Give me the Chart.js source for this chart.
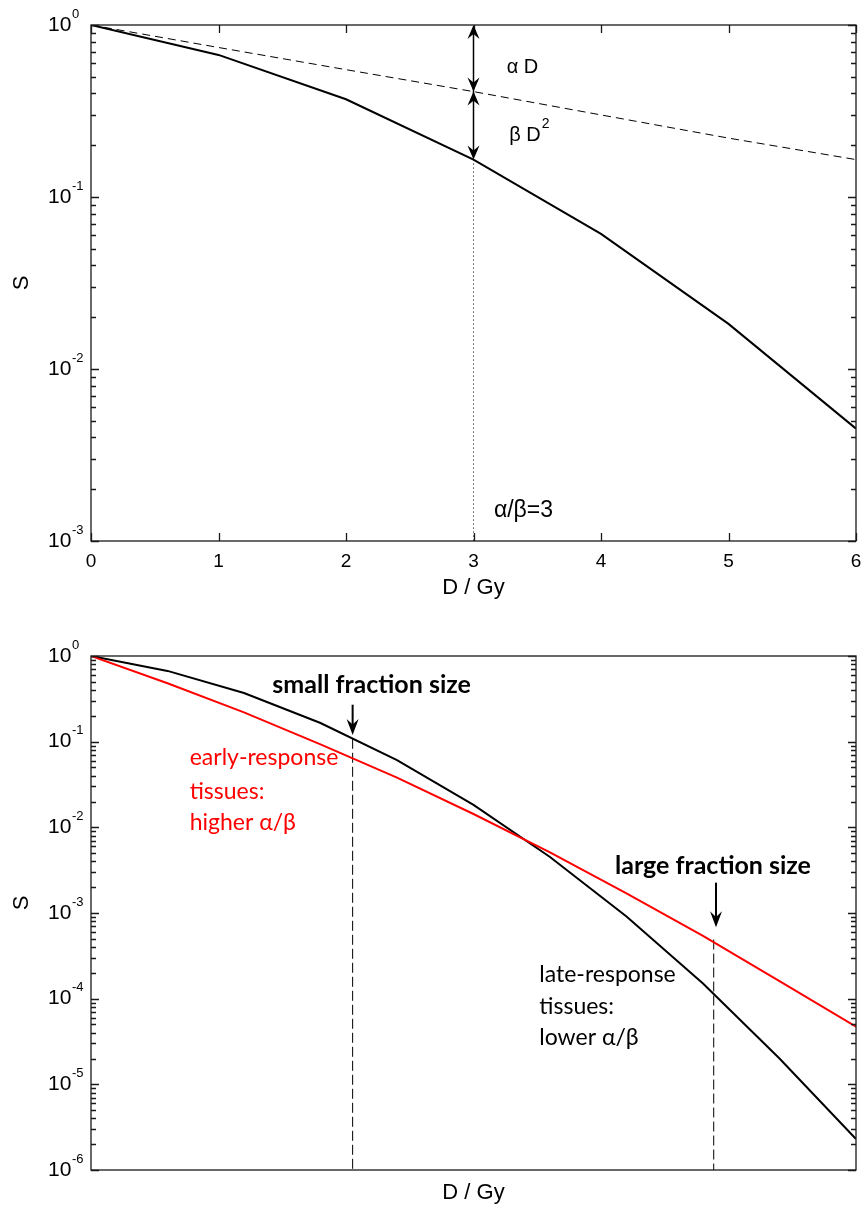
<!DOCTYPE html>
<html>
<head>
<meta charset="utf-8">
<script src="https://cdn.jsdelivr.net/npm/chart.js@4.4.0/dist/chart.umd.min.js"></script>
<style>
  html, body { margin: 0; padding: 0; background: #fff; }
  #wrap { position: relative; width: 866px; height: 1209px; }
  canvas { position: absolute; left: 0; }
</style>
</head>
<body>
<div id="wrap">
  <canvas id="topChart" width="866" height="610" style="top:0"></canvas>
  <canvas id="bottomChart" width="866" height="599" style="top:610px"></canvas>
</div>
<script>
// --- top panel: one tissue, alpha/beta = 3
const topDose = [0, 1, 2, 3, 4, 5, 6]
const topSurvival = [1, 0.67, 0.37, 0.165, 0.061, 0.0183, 0.0045]
const topAlphaOnly = [1, 0.74, 0.55, 0.41, 0.30, 0.22, 0.165]
const topXTicks = [0, 1, 2, 3, 4, 5, 6]
const topXTickLabels = ['0', '1', '2', '3', '4', '5', '6']
const topYExponents = ['0', '-1', '-2', '-3']

// --- bottom panel: late vs early responding tissues
const bottomDose = [0, 1, 2, 3, 4, 5, 6, 7, 8, 9, 10]
const lateSurvival = [1, 0.67, 0.37, 0.165, 0.061, 0.0183, 0.0045, 9.1e-4, 1.5e-4, 2.0e-5, 2.3e-6]
const earlySurvival = [1, 0.48, 0.22, 0.093, 0.038, 0.0143, 0.0051, 0.0017, 5.4e-4, 1.6e-4, 4.7e-5]
const bottomYExponents = ['0', '-1', '-2', '-3', '-4', '-5', '-6']

// annotation anchors (data units)
const markDose = 3
const markLevels = [1, 0.41, 0.165]
const smallDose = 3.42
const smallCurveS = 0.108
const largeDose = 8.14
const largeCurveS = 4.9e-4

const AXIS_FONT = '"Liberation Sans", Arial, sans-serif'
const NOTE_FONT = 'Lato, "Open Sans", sans-serif'

function pts(xs, ys) {
  return xs.map((d, i) => ({ x: d, y: ys[i] }))
}

function line(ctx, x1, y1, x2, y2) {
  ctx.moveTo(x1, y1)
  ctx.lineTo(x2, y2)
}

// matlab style arrow head, dir = 1 points down, -1 points up
function head(ctx, x, y, dir, w, l) {
  ctx.beginPath()
  ctx.moveTo(x, y)
  ctx.lineTo(x - w, y - dir * l)
  ctx.lineTo(x, y - dir * l * 0.65)
  ctx.lineTo(x + w, y - dir * l)
  ctx.closePath()
  ctx.fill()
}

function framePlugin(opts) {
  return {
    id: 'frame',
    afterDraw(chart) {
      const { ctx, chartArea: a, scales: { x, y } } = chart
      ctx.save()
      ctx.strokeStyle = '#1a1a1a'
      ctx.lineWidth = 1.3
      ctx.beginPath()
      opts.xTicks.forEach(v => {
        const px = Math.round(x.getPixelForValue(v)) + 0.5
        line(ctx, px, a.bottom, px, a.bottom - 8)
        line(ctx, px, a.top, px, a.top + 8)
      })
      const n = opts.yExponents.length
      for (let i = 0; i < n; i++) {
        const e = -i
        const py = Math.round(y.getPixelForValue(Math.pow(10, e))) + 0.5
        line(ctx, a.left, py, a.left + 8, py)
        line(ctx, a.right, py, a.right - 8, py)
        if (i < n - 1) {
          for (let k = 2; k <= 9; k++) {
            const my = Math.round(y.getPixelForValue(k * Math.pow(10, e - 1))) + 0.5
            line(ctx, a.left, my, a.left + 5, my)
            line(ctx, a.right, my, a.right - 5, my)
          }
        }
      }
      ctx.stroke()
      ctx.strokeRect(a.left, a.top, a.right - a.left, a.bottom - a.top)

      ctx.fillStyle = '#000'
      // x tick labels
      ctx.font = '19px ' + AXIS_FONT
      ctx.textAlign = 'center'
      ctx.textBaseline = 'top'
      opts.xLabels.forEach((t, i) => {
        ctx.fillText(t, x.getPixelForValue(opts.xTicks[i]), a.bottom + 11)
      })
      // y tick labels 10^e
      ctx.textAlign = 'left'
      ctx.textBaseline = 'middle'
      opts.yExponents.forEach((t, i) => {
        const py = y.getPixelForValue(Math.pow(10, -i))
        ctx.font = '21px ' + AXIS_FONT
        ctx.fillText('10', 48, py)
        ctx.font = '13px ' + AXIS_FONT
        ctx.fillText(t, 72, py - 11)
      })
      // axis titles
      ctx.font = '22px ' + AXIS_FONT
      ctx.textAlign = 'center'
      ctx.fillText('D / Gy', (a.left + a.right) / 2, a.bottom + opts.xTitleGap)
      ctx.save()
      ctx.translate(22, opts.sY)
      ctx.rotate(-Math.PI / 2)
      ctx.font = '22px ' + AXIS_FONT
      ctx.fillText('S', 0, 0)
      ctx.restore()
      ctx.restore()
    }
  }
}

const topNotes = {
  id: 'topNotes',
  afterDraw(chart) {
    const { ctx, scales: { x, y } } = chart
    const px = x.getPixelForValue(markDose)
    const ys = markLevels.map(v => y.getPixelForValue(v))
    ctx.save()
    ctx.strokeStyle = '#000'
    ctx.fillStyle = '#000'
    ctx.lineWidth = 1.5
    ctx.beginPath()
    line(ctx, px, ys[0] + 4, px, ys[2] - 4)
    ctx.stroke()
    head(ctx, px, ys[0], -1, 6, 14)
    head(ctx, px, ys[1], 1, 6, 14)
    head(ctx, px, ys[1], -1, 6, 14)
    head(ctx, px, ys[2], 1, 6, 14)

    ctx.font = '20px ' + AXIS_FONT
    ctx.textAlign = 'left'
    ctx.textBaseline = 'middle'
    ctx.fillText('α D', x.getPixelForValue(3.26), y.getPixelForValue(0.57))
    const bx = x.getPixelForValue(3.28)
    const by = y.getPixelForValue(0.229)
    ctx.fillText('β D', bx, by)
    const w = ctx.measureText('β D').width
    ctx.font = '14px ' + AXIS_FONT
    ctx.fillText('2', bx + w + 1, by - 11)
    ctx.font = '23px ' + AXIS_FONT
    ctx.fillText('α/β=3', x.getPixelForValue(3.16), y.getPixelForValue(1.51e-3))
    ctx.restore()
  }
}

const bottomNotes = {
  id: 'bottomNotes',
  afterDraw(chart) {
    const { ctx, scales: { x, y } } = chart
    ctx.save()
    ctx.fillStyle = '#000'
    ctx.strokeStyle = '#000'
    ctx.lineWidth = 2
    // arrows
    const sx = x.getPixelForValue(smallDose)
    ctx.beginPath()
    line(ctx, sx, y.getPixelForValue(0.27), sx, y.getPixelForValue(0.12) - 8)
    ctx.stroke()
    head(ctx, sx, y.getPixelForValue(0.12), 1, 6, 16)
    const lx = x.getPixelForValue(largeDose + 0.03)
    ctx.beginPath()
    line(ctx, lx, y.getPixelForValue(2.26e-3), lx, y.getPixelForValue(6.8e-4) - 8)
    ctx.stroke()
    head(ctx, lx, y.getPixelForValue(6.8e-4), 1, 6, 16)

    ctx.textAlign = 'left'
    ctx.textBaseline = 'middle'
    ctx.font = 'bold 25px ' + NOTE_FONT
    ctx.fillText('small fraction size', x.getPixelForValue(2.37), y.getPixelForValue(0.46))
    ctx.fillText('large fraction size', x.getPixelForValue(6.85), y.getPixelForValue(3.57e-3))

    ctx.font = '23px ' + NOTE_FONT
    ctx.fillStyle = '#ff0000'
    const ex = x.getPixelForValue(1.29)
    ctx.fillText('early-response', ex, y.getPixelForValue(0.0647))
    ctx.fillText('tissues:', ex, y.getPixelForValue(0.026))
    ctx.fillText('higher α/β', ex, y.getPixelForValue(0.0113))

    ctx.fillStyle = '#000'
    const tx = x.getPixelForValue(5.86)
    ctx.fillText('late-response', tx, y.getPixelForValue(1.91e-4))
    ctx.fillText('tissues:', tx, y.getPixelForValue(8.1e-5))
    ctx.fillText('lower α/β', tx, y.getPixelForValue(3.53e-5))
    ctx.restore()
  }
}

function baseOptions(xMax, yMin, padding) {
  return {
    responsive: false,
    animation: false,
    layout: { padding },
    plugins: { legend: { display: false }, tooltip: { enabled: false } },
    elements: { point: { radius: 0 }, line: { tension: 0 } },
    scales: {
      x: { type: 'linear', min: 0, max: xMax, display: false },
      y: { type: 'logarithmic', min: yMin, max: 1, display: false }
    }
  }
}

new Chart(document.getElementById('topChart'), {
  type: 'line',
  data: {
    datasets: [
      { data: pts(topDose, topAlphaOnly), borderColor: '#000', borderWidth: 1, borderDash: [8, 5] },
      { data: pts(topDose, topSurvival), borderColor: '#000', borderWidth: 2 },
      { data: [{ x: markDose, y: markLevels[2] }, { x: markDose, y: 1e-3 }], borderColor: '#000', borderWidth: 1, borderDash: [1, 3] }
    ]
  },
  options: baseOptions(6, 1e-3, { left: 91, top: 25, right: 10, bottom: 69 }),
  plugins: [
    framePlugin({ xTicks: topXTicks, xLabels: topXTickLabels, yExponents: topYExponents, xTitleGap: 47, sY: 283 }),
    topNotes
  ]
})

new Chart(document.getElementById('bottomChart'), {
  type: 'line',
  data: {
    datasets: [
      { data: pts(bottomDose, earlySurvival), borderColor: '#ff0000', borderWidth: 2 },
      { data: pts(bottomDose, lateSurvival), borderColor: '#000', borderWidth: 2 },
      { data: [{ x: smallDose, y: smallCurveS }, { x: smallDose, y: 1e-6 }], borderColor: '#000', borderWidth: 1, borderDash: [10, 4] },
      { data: [{ x: largeDose, y: largeCurveS }, { x: largeDose, y: 1e-6 }], borderColor: '#000', borderWidth: 1, borderDash: [10, 4] }
    ]
  },
  options: baseOptions(10, 1e-6, { left: 91, top: 46, right: 10, bottom: 39 }),
  plugins: [
    framePlugin({ xTicks: [], xLabels: [], yExponents: bottomYExponents, xTitleGap: 23, sY: 293 }),
    bottomNotes
  ]
})
</script>
</body>
</html>
